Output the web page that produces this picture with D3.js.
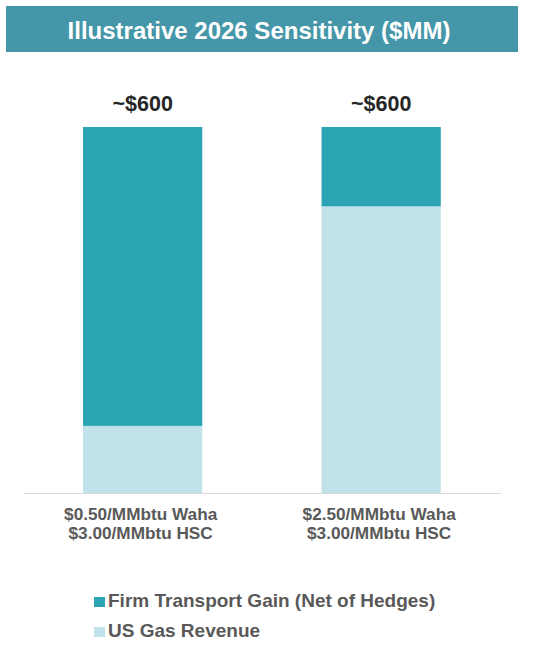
<!DOCTYPE html>
<html><head><meta charset="utf-8">
<script src="https://cdn.jsdelivr.net/npm/d3@7"></script>
<style>body{margin:0;background:#fff;} svg{display:block;font-family:"Liberation Sans",Arial,sans-serif;}</style>
</head><body>
<script>
const categories = ["$0.50/MMbtu Waha\n$3.00/MMbtu HSC", "$2.50/MMbtu Waha\n$3.00/MMbtu HSC"];
const usGasRevenue = [110, 470];
const firmTransportGain = [490, 130];
const totalLabels = ["~$600", "~$600"];
const seriesNames = ["Firm Transport Gain (Net of Hedges)", "US Gas Revenue"];
const seriesColors = ["#2ba5b3", "#c1e2e9"];
const title = "Illustrative 2026 Sensitivity ($MM)";

const W = 538, H = 650;
const svg = d3.select("body").append("svg").attr("width", W).attr("height", H);

// title bar
svg.append("rect").attr("x", 6).attr("y", 6).attr("width", 512).attr("height", 46).attr("fill", "#4596a8");
svg.append("text").attr("x", 259).attr("y", 39).attr("text-anchor", "middle")
  .attr("fill", "#fff").attr("font-size", 24).attr("font-weight", "bold").text(title);

const x = d3.scaleBand().domain(categories).range([23.4, 500.4]).paddingInner(0.5).paddingOuter(0.25);
const y = d3.scaleLinear().domain([0, 600]).range([493, 127]);

const rows = categories.map((c, i) => ({cat: c, us: usGasRevenue[i], firm: firmTransportGain[i]}));
const stack = d3.stack().keys(["us", "firm"])(rows);
const colorByKey = {us: seriesColors[1], firm: seriesColors[0]};

svg.append("g").selectAll("g").data(stack).join("g").attr("fill", d => colorByKey[d.key])
  .selectAll("rect").data(d => d).join("rect")
  .attr("x", d => x(d.data.cat)).attr("width", x.bandwidth())
  .attr("y", d => y(d[1])).attr("height", d => y(d[0]) - y(d[1]));

// axis
const ax = svg.append("g").attr("transform", `translate(0,${y(0)})`)
  .call(d3.axisBottom(x).tickSize(0).tickFormat(""));
ax.select(".domain").attr("stroke", "#d9d9d9");

// category labels
rows.forEach((r) => {
  const lines = r.cat.split("\n");
  const t = svg.append("text").attr("text-anchor", "middle").attr("fill", "#595959")
    .attr("font-size", 17.2).attr("font-weight", "bold");
  lines.forEach((l, j) => t.append("tspan").attr("x", x(r.cat) + x.bandwidth() / 2 - 2).attr("y", 520 + j * 19).text(l));
});

// totals
svg.selectAll(".tot").data(rows).join("text").attr("class", "tot")
  .attr("x", d => x(d.cat) + x.bandwidth() / 2).attr("y", d => y(d.us + d.firm) - 16)
  .attr("text-anchor", "middle").attr("font-size", 21.5).attr("font-weight", "bold").attr("fill", "#262626")
  .text((d, i) => totalLabels[i]);

// legend
const lg = svg.append("g");
seriesNames.forEach((n, i) => {
  const yy = 607 + i * 30;
  lg.append("rect").attr("x", 94).attr("y", yy - 10).attr("width", 11).attr("height", 10).attr("fill", seriesColors[i]);
  lg.append("text").attr("x", 108).attr("y", yy).attr("font-size", 19).attr("font-weight", "bold").attr("fill", "#595959").text(n);
});
</script>
</body></html>
